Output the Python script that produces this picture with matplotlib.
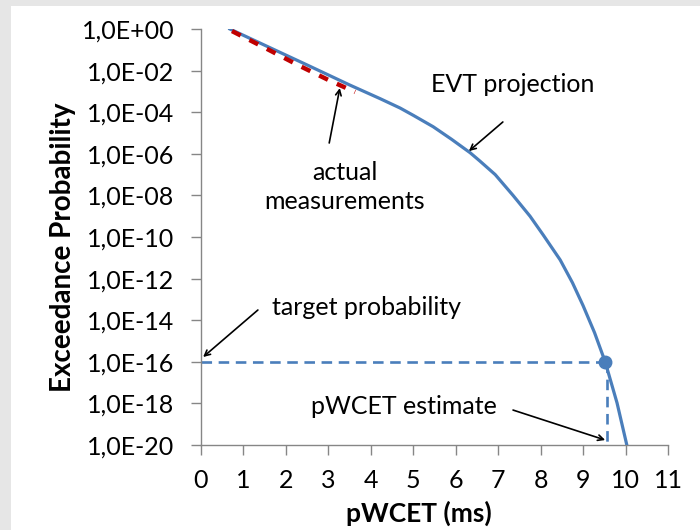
import matplotlib.pyplot as plt
from matplotlib.ticker import FixedLocator, NullLocator
from matplotlib.patches import Rectangle

plt.rcParams['font.family'] = ['Lato', 'DejaVu Sans']

# EVT projection (x in ms, exponent of exceedance probability)
evt_x = [0.68, 1.5, 2.5, 3.5, 4.22, 4.69, 5.0, 5.47, 5.9, 6.34, 6.57, 6.93, 7.35,
         7.75, 8.06, 8.46, 8.75, 9.0, 9.27, 9.52, 9.8, 10.03]
evt_exp = [0, -0.78, -1.73, -2.69, -3.35, -3.8, -4.15, -4.7, -5.3, -5.95, -6.35, -7.0, -8.0,
           -9.0, -9.9, -11.1, -12.2, -13.3, -14.6, -16.0, -17.98, -20.0]
evt_p = [10.0 ** e for e in evt_exp]

# actual measurements
meas_x = [0.73, 1.5, 2.3, 3.0, 3.63]
meas_exp = [-0.1, -0.9, -1.75, -2.45, -3.03]
meas_p = [10.0 ** e for e in meas_exp]

target_p = 1e-16
pwcet = 9.52

yticks = [10.0 ** -k for k in range(0, 21, 2)]
ylabels = ["1,0E+00"] + ["1,0E-%02d" % k for k in range(2, 21, 2)]
xticks = list(range(0, 12))

BLUE = "#4a7ebb"
RED = "#c00000"
GRID = "#868686"

fig = plt.figure(figsize=(7, 5.3), dpi=100)
fig.patch.set_facecolor("#e6e6e6")
fig.patches.append(Rectangle((11 / 700, 0), 1, 524 / 530, transform=fig.transFigure,
                             facecolor="white", edgecolor="none", zorder=0))

ax = fig.add_axes([201 / 700, 85 / 530, 467 / 700, 416 / 530])
ax.set_zorder(2)
ax.set_facecolor("none")
ax.set_yscale("log")
ax.set_xlim(0, 11)
ax.set_ylim(1e-20, 1)

ax.plot(evt_x, evt_p, color=BLUE, lw=2.3, zorder=3, solid_joinstyle="round")
ax.plot(meas_x, meas_p, color=RED, lw=3.2, dashes=(2.2, 2.2), zorder=4)

ax.plot([0, pwcet], [target_p, target_p], color=BLUE, lw=1.9, dashes=(4, 2.5), zorder=2)
ax.plot([pwcet + 0.05, pwcet + 0.05], [target_p, 1e-20], color=BLUE, lw=1.9, dashes=(4, 2.5), zorder=2)
ax.plot([pwcet], [target_p], "o", color=BLUE, ms=9, zorder=5)

ax.yaxis.set_major_locator(FixedLocator(yticks))
ax.yaxis.set_minor_locator(NullLocator())
ax.set_yticklabels(ylabels)
ax.set_xticks(xticks)

for s in ["top", "right"]:
    ax.spines[s].set_visible(False)
for s in ["left", "bottom"]:
    ax.spines[s].set_color(GRID)
    ax.spines[s].set_linewidth(1.0)

ax.tick_params(axis="y", direction="out", length=7, width=1, color=GRID, pad=12, labelsize=18)
ax.tick_params(axis="x", direction="out", length=7.5, width=1, color=GRID, pad=10, labelsize=18)

fig.text(63 / 700, 1 - 247 / 530, "Exceedance Probability", rotation=90, ha="center", va="center",
         fontsize=20, fontweight="bold")
fig.text(419 / 700, 1 - 513 / 530, "pWCET (ms)", ha="center", va="center",
         fontsize=19, fontweight="bold")

arrow = dict(arrowstyle="->", color="black", lw=1.2, shrinkA=0, shrinkB=0)
fs = 18
ax.text(7.35, 10 ** -2.69, "EVT projection", ha="center", va="center", fontsize=fs)
ax.annotate("", xy=(6.31, 10 ** -5.87), xytext=(7.11, 10 ** -4.47), arrowprops=arrow)

ax.text(3.39, 10 ** -7.6, "actual\nmeasurements", ha="center", va="center", fontsize=fs, linespacing=1.3)
ax.annotate("", xy=(3.27, 10 ** -2.84), xytext=(3.02, 10 ** -5.48), arrowprops=arrow)

ax.text(3.89, 10 ** -13.41, "target probability", ha="center", va="center", fontsize=fs)
ax.annotate("", xy=(0.05, 10 ** -15.77), xytext=(1.34, 10 ** -13.51), arrowprops=arrow)

ax.text(4.78, 10 ** -18.17, "pWCET estimate", ha="center", va="center", fontsize=fs)
ax.annotate("", xy=(9.52, 10 ** -19.76), xytext=(7.35, 10 ** -18.32), arrowprops=arrow)

fig.savefig("out.png", dpi=100, facecolor=fig.get_facecolor())
